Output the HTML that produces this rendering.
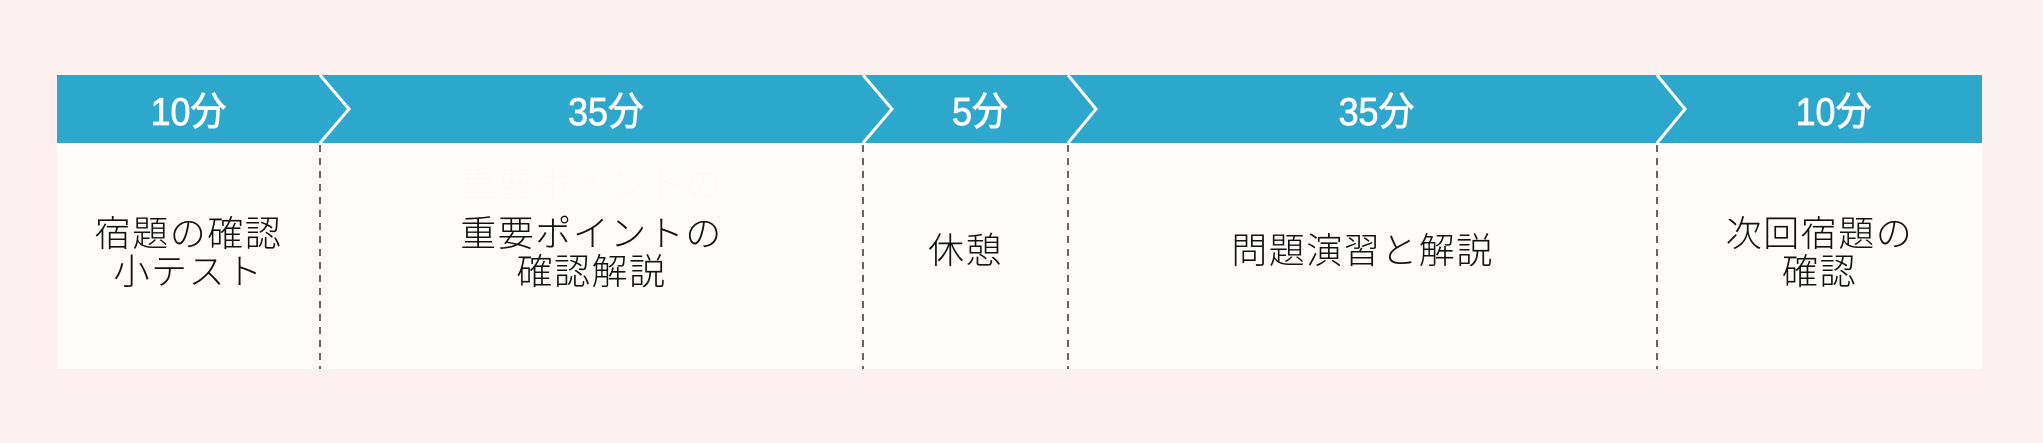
<!DOCTYPE html>
<html><head><meta charset="utf-8"><style>
body{margin:0;width:2043px;height:443px;background:#fcf0f0;position:relative;overflow:hidden;font-family:"Liberation Sans","Noto Sans CJK JP",sans-serif}
.t{position:absolute;text-align:center;white-space:nowrap}
.h{color:#fff;font-size:39px;top:88px;line-height:50px;transform:scaleX(0.92);-webkit-text-stroke:0.8px #fff}
.b{color:#111;font-size:36px;line-height:38px;letter-spacing:1.5px;font-weight:300;font-family:"Noto Sans CJK JP",sans-serif}
</style></head><body>
<svg width="2043" height="443" style="position:absolute;left:0;top:0">
<rect x="57" y="75" width="1925" height="294" fill="#fffcfb"/>
<rect x="57" y="75" width="1925" height="68" fill="#2ea7cc"/>
<g fill="none" stroke="#fff" stroke-width="3">
<polyline points="320,75 349,109 320,143"/>
<polyline points="863,75 892,109 863,143"/>
<polyline points="1068,75 1096,109 1068,143"/>
<polyline points="1657,75 1685,109 1657,143"/>
</g>
<g stroke="#666" stroke-width="2" stroke-dasharray="7,6">
<line x1="320" y1="145" x2="320" y2="369"/>
<line x1="863" y1="145" x2="863" y2="369"/>
<line x1="1068" y1="145" x2="1068" y2="369"/>
<line x1="1657" y1="145" x2="1657" y2="369"/>
</g>
</svg>
<div class="t h" style="left:57px;width:263px">10分</div>
<div class="t h" style="left:349px;width:514px">35分</div>
<div class="t h" style="left:892px;width:176px">5分</div>
<div class="t h" style="left:1096px;width:561px">35分</div>
<div class="t h" style="left:1685px;width:297px">10分</div>
<div class="t b" style="left:57px;width:263px;top:212px">宿題の確認<br>小テスト</div>
<div class="t b" style="left:320px;width:543px;top:163px;color:#fcfaf9">重要ポイントの</div>
<div class="t b" style="left:320px;width:543px;top:212px">重要ポイントの<br>確認解説</div>
<div class="t b" style="left:863px;width:205px;top:229px">休憩</div>
<div class="t b" style="left:1068px;width:589px;top:229px">問題演習と解説</div>
<div class="t b" style="left:1657px;width:325px;top:212px">次回宿題の<br>確認</div>
</body></html>
